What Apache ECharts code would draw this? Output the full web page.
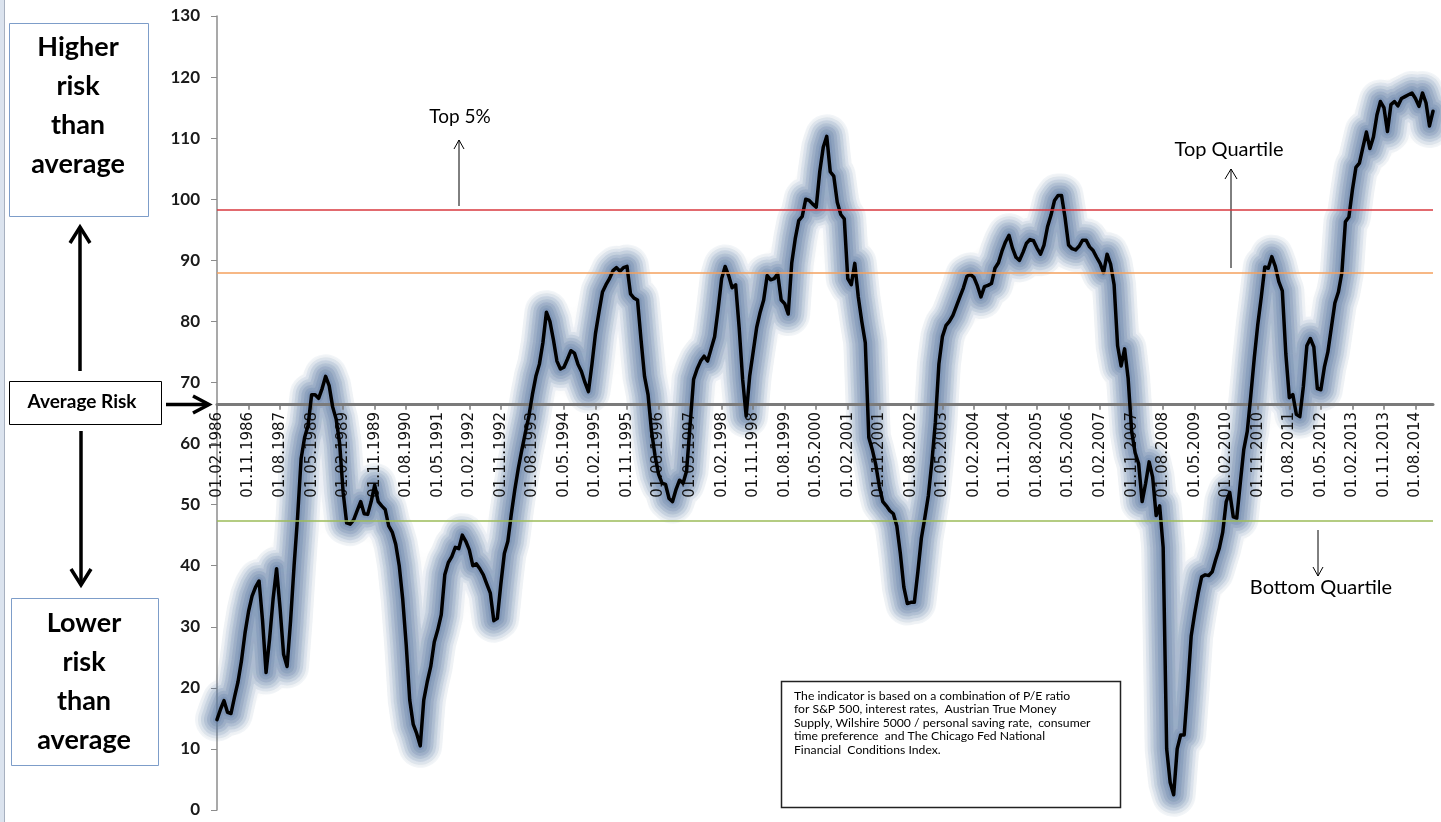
<!DOCTYPE html>
<html><head><meta charset="utf-8">
<script src="https://cdn.jsdelivr.net/npm/echarts@6/dist/echarts.min.js"></script>
<style>html,body{margin:0;padding:0;background:#fff;overflow:hidden}#c{width:1441px;height:822px}</style>
</head><body><div id="c"></div>
<script>
// Monthly risk indicator, 01.02.1986 .. 01.01.2015
const values = [
  14.8,16.5,17.9,16.0,15.8,18.5,21.0,24.5,29.0,32.5,35.0,36.5,
  37.5,31.0,22.5,28.0,34.5,39.5,33.0,25.5,23.5,31.0,40.0,48.0,
  57.5,61.0,63.0,68.0,68.0,67.4,69.0,71.0,69.5,66.0,64.0,60.0,
  52.0,47.0,46.8,47.5,49.0,50.5,48.5,48.4,50.5,53.2,50.5,49.8,
  49.2,46.5,45.5,43.5,40.0,34.5,27.0,18.0,14.0,12.5,10.5,18.0,
  21.0,23.5,27.5,29.5,32.0,38.5,40.5,41.5,43.0,42.8,45.0,44.0,
  42.6,40.0,40.3,39.5,38.5,37.0,35.5,31.0,31.4,37.0,42.0,44.0,
  48.5,52.5,56.0,59.0,61.8,64.5,68.0,71.0,73.0,76.5,81.5,80.0,
  77.0,73.5,72.2,72.5,73.8,75.2,74.8,73.0,71.8,70.0,68.5,73.0,
  78.0,81.5,84.8,86.0,87.0,88.3,88.8,88.2,88.8,89.0,84.5,83.8,
  83.5,77.0,71.0,68.0,62.0,58.0,55.0,53.5,53.3,51.0,50.5,52.5,
  54.0,53.5,55.5,63.0,70.5,72.2,73.5,74.3,73.5,75.5,77.5,82.0,
  87.0,89.0,87.5,85.5,86.0,79.0,70.5,64.5,71.0,75.0,79.0,81.5,
  83.5,87.5,86.8,87.0,87.8,83.5,82.9,81.2,89.5,93.5,96.5,97.2,
  100.0,99.8,99.2,98.7,104.5,108.5,110.3,104.5,103.8,99.5,97.5,96.8,
  87.0,86.0,89.5,84.0,80.0,76.5,61.0,59.0,56.5,53.0,50.5,49.8,
  49.0,48.5,46.5,42.0,36.5,33.8,34.0,34.0,39.0,44.5,47.9,51.5,
  57.0,63.5,73.0,77.5,79.3,80.0,81.0,82.5,84.0,85.5,87.4,87.7,
  87.2,85.8,84.0,85.7,85.9,86.2,88.7,89.6,91.5,93.0,94.1,92.0,
  90.5,90.0,91.3,92.8,93.4,93.2,92.0,91.0,92.5,95.5,97.4,99.8,
  100.6,100.6,97.0,92.5,91.9,91.7,92.3,93.3,93.3,92.2,91.6,90.5,
  89.5,88.0,91.0,89.4,86.0,76.0,72.7,75.5,70.7,62.0,58.5,56.7,
  50.5,53.5,57.0,54.5,48.2,49.8,43.0,10.0,4.5,2.5,10.0,12.3,
  12.3,20.0,28.5,32.2,35.5,38.2,38.5,38.4,39.0,41.0,42.8,45.5,
  50.5,52.0,48.0,47.8,53.5,59.0,62.0,67.8,74.0,79.5,84.0,88.9,
  88.7,90.6,89.0,86.5,85.0,74.7,67.5,68.0,64.8,64.4,69.3,76.0,
  77.2,75.8,69.0,68.8,72.5,75.0,79.0,83.0,84.8,88.0,96.3,97.1,
  101.5,105.2,105.9,108.5,111.0,108.3,110.2,113.8,116.0,115.0,111.1,115.5,
  116.0,115.3,116.5,116.8,117.1,117.4,116.5,115.2,117.4,115.8,112.0,114.4
];
const START_YEAR = 1986, START_MONTH = 2;
const categories = [];
for (let i = 0; i < values.length; i++) {
  const k = START_MONTH - 1 + i;
  categories.push('01.' + String(k % 12 + 1).padStart(2, '0') + '.' + (START_YEAR + Math.floor(k / 12)));
}
const yMin = 0, yMax = 130, yStep = 10;
const levelNames  = ['Top 5%', 'Top Quartile', 'Average Risk', 'Bottom Quartile'];
const levelValues = [98.2, 87.9, 66.5, 47.3];
const levelColors = ['#d9393f', '#f5a05c', null, '#9bbb59'];
const noteText = 'The indicator is based on a combination of P/E ratio\nfor S&P 500, interest rates,  Austrian True Money\nSupply, Wilshire 5000 / personal saving rate,  consumer\ntime preference  and The Chicago Fed National\nFinancial  Conditions Index.';

const G = {left: 217, right: 8, top: 16, bottom: 12};
const plotH = 822 - G.top - G.bottom;
const avg = levelValues[2];

function arrow(pts, head, w) {
  return [
    {type: 'polyline', shape: {points: pts}, style: {stroke: '#000', lineWidth: w, fill: null}, silent: true},
    {type: 'polyline', shape: {points: head}, style: {stroke: '#000', lineWidth: w, fill: null, lineJoin: 'miter'}, silent: true}
  ];
}
function txt(x, y, t, font, align) {
  return {type: 'text', x: x, y: y, silent: true,
    style: {text: t, font: font, fill: '#000', align: align || 'center', verticalAlign: 'middle'}};
}

const graphics = [].concat(
  [{type: 'rect', shape: {x: 0, y: 0, width: 4, height: 822}, style: {fill: '#dbe3ee'}, silent: true},
   {type: 'line', shape: {x1: 4.5, y1: 0, x2: 4.5, y2: 822}, style: {stroke: '#a7b0bf', lineWidth: 1}, silent: true},
   {type: 'rect', shape: {x: 9.5, y: 23.5, width: 139, height: 193}, style: {fill: '#fff', stroke: '#7d9dc9', lineWidth: 1}, silent: true},
   {type: 'text', x: 78, y: 106, silent: true, style: {text: 'Higher\nrisk\nthan\naverage', font: 'bold 27px Lato', fill: '#000', align: 'center', verticalAlign: 'middle', lineHeight: 39}},
   {type: 'rect', shape: {x: 11.5, y: 598.5, width: 147, height: 167}, style: {fill: '#fff', stroke: '#7d9dc9', lineWidth: 1}, silent: true},
   {type: 'text', x: 84, y: 682, silent: true, style: {text: 'Lower\nrisk\nthan\naverage', font: 'bold 27px Lato', fill: '#000', align: 'center', verticalAlign: 'middle', lineHeight: 39}},
   {type: 'rect', shape: {x: 9.5, y: 381.5, width: 152, height: 43}, style: {fill: '#fff', stroke: '#000', lineWidth: 1}, silent: true},
   txt(82, 402, levelNames[2], 'bold 19px Lato')],
  arrow([[80, 371], [80, 227]], [[70, 243], [80, 227], [90, 243]], 3.5),
  arrow([[81, 431], [81, 585]], [[71, 569], [81, 585], [91, 569]], 3.5),
  arrow([[166, 404.5], [208, 404.5]], [[193, 396], [209, 404.5], [193, 413]], 3.5),
  [txt(460, 117, levelNames[0], '19px Lato')],
  arrow([[459, 206], [459, 140]], [[454, 149], [459, 140], [464, 149]], 1),
  [txt(1229, 150, levelNames[1], '20px Lato')],
  arrow([[1231, 268], [1231, 169]], [[1225, 179], [1231, 169], [1237, 179]], 1),
  [txt(1321, 588, levelNames[3], '20px Lato')],
  arrow([[1318, 530], [1318, 576]], [[1313, 567], [1318, 576], [1323, 567]], 1),
  [{type: 'rect', shape: {x: 781.5, y: 681.5, width: 339, height: 126}, style: {fill: '#fff', stroke: '#222', lineWidth: 1.5}, z: 10, silent: true},
   {type: 'text', x: 794, y: 689, z: 11, silent: true, style: {text: noteText, font: '12.2px Lato', fill: '#000', align: 'left', verticalAlign: 'top', lineHeight: 13.5}}]
);

const markData = [];
levelValues.forEach((v, i) => {
  if (levelColors[i]) markData.push({yAxis: v, lineStyle: {color: levelColors[i], width: 1.5, type: 'solid'}});
});

// soft glow built from stacked translucent, blurred strokes
const glowLayers = [
  {w: 44, a: 0.08}, {w: 38, a: 0.11}, {w: 32, a: 0.14}, {w: 26, a: 0.17},
  {w: 20, a: 0.20}, {w: 14, a: 0.23}, {w: 8, a: 0.26}
];
const glowSeries = glowLayers.map((g, i) => ({
  type: 'line', name: 'glow' + i, xAxisIndex: 0, yAxisIndex: 0, data: values, symbol: 'none', silent: true, z: 1,
  lineStyle: {width: g.w, color: 'rgba(95,124,166,' + g.a + ')', shadowBlur: 14, shadowColor: 'rgba(95,124,166,' + g.a + ')', cap: 'round', join: 'round'}
}));

const chart = echarts.init(document.getElementById('c'), null, {renderer: 'canvas'});
chart.setOption({
  animation: false,
  backgroundColor: '#fff',
  grid: [
    {left: G.left, right: G.right, top: G.top, bottom: G.bottom},
    {left: G.left, right: G.right, top: G.top, height: plotH * (yMax - avg) / (yMax - yMin)}
  ],
  xAxis: [
    {gridIndex: 0, type: 'category', data: categories, boundaryGap: false, show: false},
    {gridIndex: 1, type: 'category', data: categories, boundaryGap: false, position: 'bottom', z: 3,
     axisLine: {show: true, lineStyle: {color: '#7a7a7a', width: 3}},
     axisTick: {show: true, interval: 8, length: 6, lineStyle: {color: '#7a7a7a', width: 1.5}},
     axisLabel: {interval: 8, rotate: 90, margin: 8, fontSize: 15, fontFamily: 'DejaVu Sans', color: '#111'},
     splitLine: {show: false}}
  ],
  yAxis: [
    {gridIndex: 0, type: 'value', min: yMin, max: yMax, interval: yStep,
     axisLine: {show: true, lineStyle: {color: '#8c8c8c', width: 1.5}},
     axisTick: {show: true, length: 6, lineStyle: {color: '#8c8c8c'}},
     axisLabel: {fontSize: 17, fontWeight: 'bold', fontFamily: 'Lato', color: '#1a1a1a', margin: 17},
     splitLine: {show: false}},
    {gridIndex: 1, type: 'value', min: avg, max: yMax, show: false}
  ],
  series: glowSeries.concat([
    {type: 'line', name: 'levels', xAxisIndex: 0, yAxisIndex: 0, data: values, symbol: 'none', silent: true, z: 2,
     lineStyle: {opacity: 0},
     markLine: {silent: true, symbol: ['none', 'none'], label: {show: false}, data: markData}},
    {type: 'line', name: 'Indicator', xAxisIndex: 0, yAxisIndex: 0, data: values, symbol: 'none', z: 4,
     lineStyle: {width: 3.5, color: '#000', join: 'round', cap: 'round'}}
  ]),
  graphic: {elements: graphics}
});
</script>
</body></html>
